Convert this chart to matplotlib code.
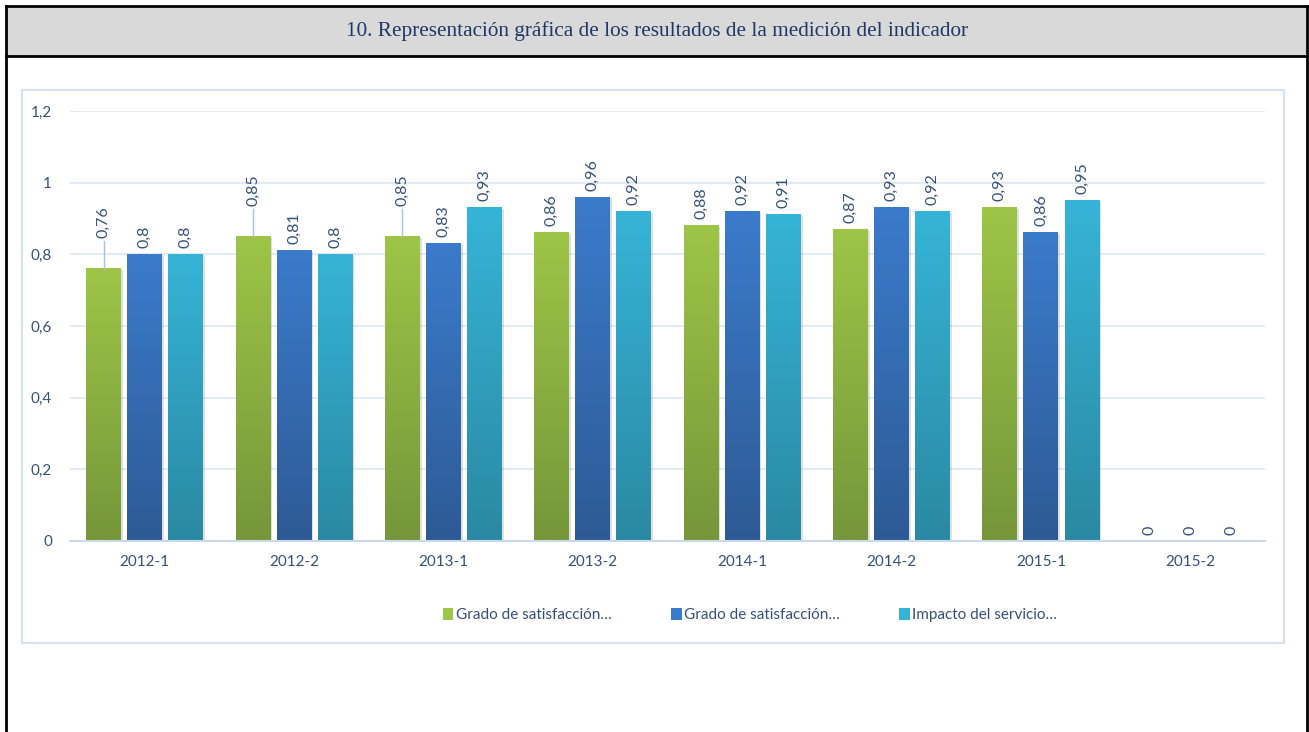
import matplotlib.pyplot as plt
import numpy as np
from matplotlib.patches import Rectangle
from matplotlib.colors import LinearSegmentedColormap

periodos = ["2012-1", "2012-2", "2013-1", "2013-2", "2014-1", "2014-2", "2015-1", "2015-2"]
grado_1 = [0.76, 0.85, 0.85, 0.86, 0.88, 0.87, 0.93, 0]
grado_2 = [0.80, 0.81, 0.83, 0.96, 0.92, 0.93, 0.86, 0]
impacto = [0.80, 0.80, 0.93, 0.92, 0.91, 0.92, 0.95, 0]
series_nombres = ["Grado de satisfacción…", "Grado de satisfacción…", "Impacto del servicio…"]
yticks = [0, 0.2, 0.4, 0.6, 0.8, 1.0, 1.2]

# colores (arriba, abajo) del degradado
colores = [("#9dc547", "#76963a"), ("#3b7bcb", "#2d5a95"), ("#36b4d7", "#2a89a2")]
texto = "#34507a"
# etiquetas desplazadas con línea guía (serie, categoría): altura del texto
etiquetas_movidas = {(0, 0): 0.846, (0, 1): 0.935, (0, 2): 0.935}

W, H = 1309, 732
fig = plt.figure(figsize=(W / 100, H / 100), dpi=100)
plt.rcParams['font.family'] = ['Lato', 'DejaVu Sans']

# marco del formulario
fig.patches.append(Rectangle((7 / W, 1 - 56 / H), 1299 / W, 49 / H, transform=fig.transFigure,
                             facecolor="#d9d9d9", edgecolor="none", zorder=0))
fig.lines.append(plt.Line2D([6 / W, 6 / W], [0, 1 - 6 / H], transform=fig.transFigure, color="black", lw=2))
fig.lines.append(plt.Line2D([1307 / W, 1307 / W], [0, 1 - 6 / H], transform=fig.transFigure, color="black", lw=2))
fig.lines.append(plt.Line2D([6 / W, 1307 / W], [1 - 6 / H, 1 - 6 / H], transform=fig.transFigure, color="black", lw=2))
fig.lines.append(plt.Line2D([6 / W, 1307 / W], [1 - 56 / H, 1 - 56 / H], transform=fig.transFigure, color="black", lw=2))
fig.text(657 / W, 1 - 31 / H, "10. Representación gráfica de los resultados de la medición del indicador",
         family="Liberation Serif", fontsize=15.3, color="#1f3864", ha="center", va="center")

# borde del área del gráfico
fig.patches.append(Rectangle((22 / W, 1 - 643 / H), 1262 / W, 553 / H, transform=fig.transFigure,
                             facecolor="none", edgecolor="#d5e1ef", lw=1.5, zorder=0))

ax = fig.add_axes([70 / W, 1 - 541 / H, 1195 / W, 430 / H])
x = np.arange(len(periodos))
ancho = 0.234
paso = 0.275
valores = [grado_1, grado_2, impacto]

for s, vals in enumerate(valores):
    cmap = LinearSegmentedColormap.from_list("g%d" % s, [colores[s][1], colores[s][0]])
    grad = np.linspace(0, 1, 256).reshape(-1, 1)
    for i, v in enumerate(vals):
        xc = x[i] + (s - 1) * paso
        if v > 0:
            # sombra suave
            ax.add_patch(Rectangle((xc - ancho / 2 + 0.012, 0), ancho, v - 0.004,
                                   facecolor="#000000", alpha=0.12, lw=0, zorder=1))
            ax.imshow(grad, extent=[xc - ancho / 2, xc + ancho / 2, 0, v], origin="lower",
                      cmap=cmap, aspect="auto", zorder=2)
        etiqueta = f"{v:g}".replace(".", ",")
        if (s, i) in etiquetas_movidas:
            ty = etiquetas_movidas[(s, i)]
            ax.plot([xc, xc], [v, ty - 0.008], color="#a9c1e0", lw=1, zorder=2)
        else:
            ty = v + 0.018
        ax.text(xc, ty, etiqueta, rotation=90, ha="center", va="bottom", fontsize=11.5, color=texto, zorder=3)

ax.set_xlim(-0.5, len(periodos) - 0.5)
ax.set_ylim(0, 1.2)
ax.set_yticks(yticks)
ax.set_yticklabels([f"{t:g}".replace(".", ",") for t in yticks])
ax.set_xticks(x)
ax.set_xticklabels(periodos)
ax.tick_params(axis="both", length=0, labelsize=11, colors=texto)
ax.tick_params(axis="y", pad=13)
ax.tick_params(axis="x", pad=10)
ax.grid(axis="y", color="#dde7f3", lw=1.2, zorder=0)
ax.set_axisbelow(True)
for lado in ["top", "right", "left"]:
    ax.spines[lado].set_visible(False)
ax.spines["bottom"].set_color("#c9d9ec")
ax.spines["bottom"].set_linewidth(1.5)

handles = [Rectangle((0, 0), 1, 1, facecolor=c[0], edgecolor="none") for c in colores]
fig.legend(handles, series_nombres, loc="center", bbox_to_anchor=(750 / W, 1 - 615 / H), ncol=3,
           frameon=False, fontsize=11, labelcolor=texto, handlelength=0.7, handleheight=0.9,
           handletextpad=0.15, columnspacing=3.9)

fig.savefig("out.png", dpi=100)
